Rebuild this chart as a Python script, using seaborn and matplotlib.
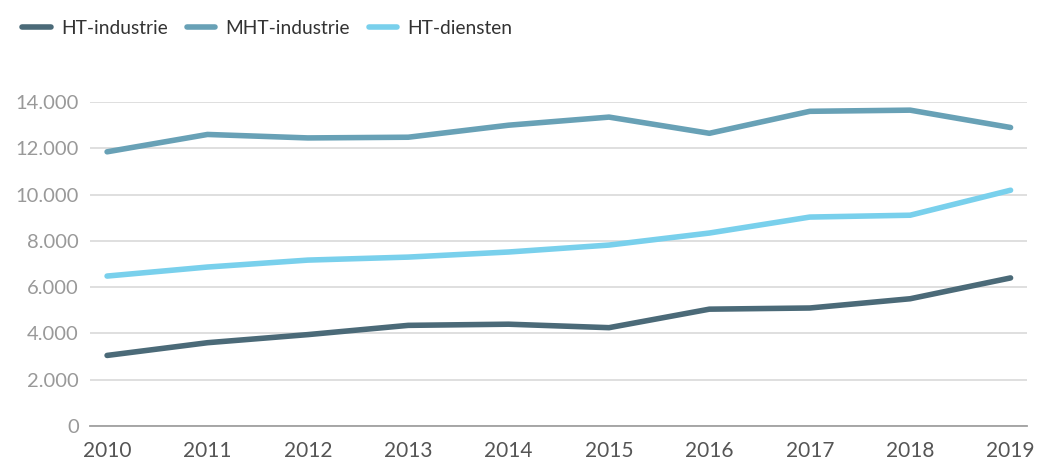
import matplotlib
matplotlib.use("Agg")
import matplotlib.pyplot as plt
import seaborn as sns
import pandas as pd

years = [2010, 2011, 2012, 2013, 2014, 2015, 2016, 2017, 2018, 2019]
ht_industrie = [3050, 3600, 3950, 4350, 4400, 4250, 5050, 5100, 5500, 6400]
mht_industrie = [11850, 12600, 12450, 12480, 13000, 13350, 12650, 13600, 13650, 12900]
ht_diensten = [6480, 6870, 7170, 7300, 7520, 7820, 8340, 9030, 9110, 10190]

series_names = ["HT-industrie", "MHT-industrie", "HT-diensten"]
colors = ["#4b6a78", "#68a1b6", "#79d0ec"]

df = pd.DataFrame({"jaar": years,
                   "HT-industrie": ht_industrie,
                   "MHT-industrie": mht_industrie,
                   "HT-diensten": ht_diensten})
long = df.melt(id_vars="jaar", var_name="reeks", value_name="waarde")

sns.set_style("white")
plt.rcParams["font.family"] = ["Lato", "DejaVu Sans"]

fig = plt.figure(figsize=(10.37, 4.66), dpi=100)
ax = fig.add_axes([0.0868, 0.0858, 0.9032, 0.6952])

sns.lineplot(data=long, x="jaar", y="waarde", hue="reeks", hue_order=series_names,
             palette=colors, linewidth=4, ax=ax, legend=False, clip_on=False)
for ln in ax.get_lines():
    ln.set_solid_capstyle("round")

ax.set_xlim(2009.83, 2019.16)
ax.set_ylim(0, 14000)
ax.set_xticks(years)
ax.set_yticks(range(0, 14001, 2000))
ax.set_yticklabels([f"{v:,}".replace(",", ".") for v in range(0, 14001, 2000)])
ax.set_xlabel("")
ax.set_ylabel("")
ax.grid(axis="y", color="#dcdcdc", linewidth=1.3)
ax.grid(axis="x", visible=False)
for s in ["top", "right", "left"]:
    ax.spines[s].set_visible(False)
ax.spines["bottom"].set_color("#a0a0a0")
ax.spines["bottom"].set_linewidth(1.3)
ax.tick_params(axis="x", colors="#a0a0a0", length=8, width=1.3, direction="out",
               labelcolor="#555555", labelsize=15, pad=3)
ax.tick_params(axis="y", length=0, labelcolor="#999999", labelsize=14.5, pad=8)

handles = [plt.Line2D([0], [0], color=c, linewidth=4, solid_capstyle="round") for c in colors]
fig.legend(handles, series_names, loc="upper left", bbox_to_anchor=(0.005, 0.995),
           ncol=3, frameon=False, fontsize=13.8, handlelength=1.5, handletextpad=0.5,
           columnspacing=1.0, labelcolor="#333333")

fig.savefig("out.png", dpi=100)
